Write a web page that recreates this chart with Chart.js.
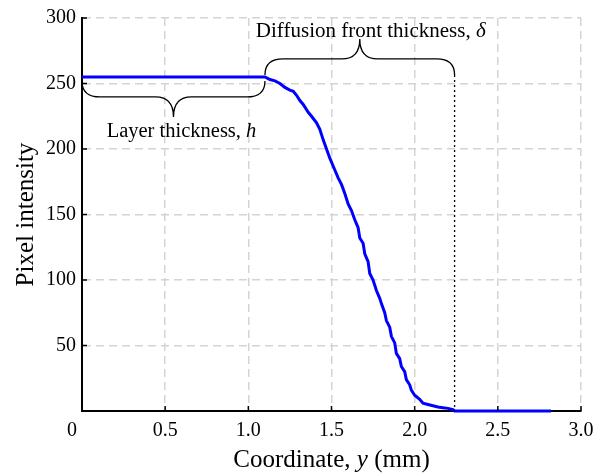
<!DOCTYPE html>
<html>
<head>
<meta charset="utf-8">
<script src="https://cdn.jsdelivr.net/npm/chart.js@4.4.1/dist/chart.umd.min.js"></script>
<style>
  body { margin: 0; background: #fff; }
</style>
</head>
<body>
<canvas id="myChart" width="594" height="474"></canvas>
<script>
// intensity profile
const coordY = [
  0, 1.10, 1.13, 1.16, 1.19, 1.22, 1.25, 1.27, 1.29, 1.31,
  1.33, 1.36, 1.38, 1.41, 1.43, 1.45, 1.47, 1.49, 1.52, 1.54,
  1.56, 1.58, 1.60, 1.62, 1.64, 1.66, 1.67, 1.69, 1.70, 1.72,
  1.73, 1.75, 1.77, 1.79, 1.80, 1.82, 1.83, 1.85, 1.86, 1.88,
  1.89, 1.91, 1.92, 1.94, 1.95, 1.97, 1.98, 2.00, 2.03, 2.05,
  2.08, 2.11, 2.14, 2.17, 2.20, 2.23, 2.24, 2.82,
];
const intensity = [
  255, 255, 253, 252, 250, 247, 245, 244, 241, 237,
  234, 228, 225, 220, 215, 207, 200, 193, 184, 178,
  173, 166, 158, 153, 146, 140, 132, 128, 120, 114,
  105, 100, 92, 86, 82, 75, 69, 64, 57, 52,
  44, 40, 34, 30, 24, 20, 16, 12, 9, 6,
  5, 4, 3, 2.5, 2, 1, 0, 0,
];
const xTicks = [0, 0.5, 1.0, 1.5, 2.0, 2.5, 3.0];
const yTicks = [50, 100, 150, 200, 250, 300];
const layerEnd = 1.10; // h
const frontEnd = 2.24; // h + delta
const plateau = 255;

const serif = "'Liberation Serif', 'DejaVu Serif', serif";
const gridColor = (c) => (c.tick && c.tick.value === 0 ? "rgba(0,0,0,0)" : "#d4d4d4");

// mixed normal / italic text, centred on cx
function richText(ctx, parts, cx, y, size) {
  let w = 0;
  parts.forEach((p) => {
    ctx.font = (p.it ? "italic " : "") + size + "px " + serif;
    w += ctx.measureText(p.t).width;
  });
  let px = cx - w / 2;
  ctx.textAlign = "left";
  parts.forEach((p) => {
    ctx.font = (p.it ? "italic " : "") + size + "px " + serif;
    ctx.fillText(p.t, px, y);
    px += ctx.measureText(p.t).width;
  });
}

// curly brace between x1 and x2, dir = 1 points down, -1 points up
function brace(ctx, x1, x2, y, dir) {
  const yh = y + dir * 16;
  const tip = y + dir * 36;
  const xm = (x1 + x2) / 2;
  const r = 18;
  ctx.beginPath();
  ctx.moveTo(x1, y);
  ctx.quadraticCurveTo(x1, yh, x1 + r, yh);
  ctx.lineTo(xm - r, yh);
  ctx.quadraticCurveTo(xm, yh, xm, tip);
  ctx.quadraticCurveTo(xm, yh, xm + r, yh);
  ctx.lineTo(x2 - r, yh);
  ctx.quadraticCurveTo(x2, yh, x2, y);
  ctx.stroke();
}

const annotations = {
  id: "annotations",
  afterDraw: (chart) => {
    const { ctx, chartArea } = chart;
    const x = chart.scales.x;
    const y = chart.scales.y;
    ctx.save();
    ctx.strokeStyle = "#000";
    ctx.fillStyle = "#000";

    // inward tick marks
    ctx.lineWidth = 1.5;
    ctx.beginPath();
    xTicks.forEach((v) => {
      const px = x.getPixelForValue(v);
      ctx.moveTo(px, chartArea.bottom);
      ctx.lineTo(px, chartArea.bottom - 5);
    });
    yTicks.forEach((v) => {
      const py = y.getPixelForValue(v);
      ctx.moveTo(chartArea.left, py);
      ctx.lineTo(chartArea.left + 5, py);
    });
    ctx.stroke();

    // the "0" on x sits left of the axis
    ctx.font = "20px " + serif;
    ctx.textAlign = "center";
    ctx.textBaseline = "middle";
    ctx.fillText("0", x.getPixelForValue(0) - 10, chartArea.bottom + 20);

    // braces
    const xa = x.getPixelForValue(0);
    const xb = x.getPixelForValue(layerEnd);
    const xc = x.getPixelForValue(frontEnd);
    const yp = y.getPixelForValue(plateau);
    ctx.lineWidth = 1.3;
    brace(ctx, xa, xb, yp + 4, 1);
    brace(ctx, xb, xc, yp - 2, -1);

    // dotted line at end of the front
    ctx.setLineDash([2, 3]);
    ctx.beginPath();
    ctx.moveTo(xc, yp - 2);
    ctx.lineTo(xc, chartArea.bottom);
    ctx.stroke();
    ctx.setLineDash([]);

    ctx.textBaseline = "alphabetic";
    richText(ctx, [{ t: "Layer thickness, " }, { t: "h", it: true }], (xa + xb) / 2 + 8, yp + 60, 20.5);
    richText(ctx, [{ t: "Diffusion front thickness, " }, { t: "δ", it: true }], (xb + xc) / 2 + 11, yp - 40, 21);

    // axis titles
    richText(ctx, [{ t: "Coordinate, " }, { t: "y", it: true }, { t: " (mm)" }], (chartArea.left + chartArea.right) / 2, 467, 25);
    ctx.translate(33, (chartArea.top + chartArea.bottom) / 2);
    ctx.rotate(-Math.PI / 2);
    ctx.font = "25px " + serif;
    ctx.textAlign = "center";
    ctx.fillText("Pixel intensity", 0, 0);
    ctx.restore();
  },
};

const points = coordY.map((v, i) => ({ x: v, y: intensity[i] }));

new Chart(document.getElementById("myChart"), {
  type: "line",
  data: {
    datasets: [
      {
        data: points,
        borderColor: "#0000ff",
        borderWidth: 3,
        pointRadius: 0,
        tension: 0,
        clip: false,
      },
    ],
  },
  options: {
    responsive: false,
    animation: false,
    layout: { padding: { top: 18, right: 13, left: 0, bottom: 0 } },
    plugins: {
      legend: { display: false },
      tooltip: { enabled: false },
    },
    scales: {
      x: {
        type: "linear",
        min: 0,
        max: 3,
        ticks: {
          stepSize: 0.5,
          color: "#000",
          font: { family: serif, size: 20 },
          padding: 8,
          maxRotation: 0,
          callback: (v) => (v === 0 ? "" : v.toFixed(1)),
        },
        grid: { color: gridColor, lineWidth: 1.5, drawTicks: false },
        border: { display: true, color: "#000", width: 2, dash: [8, 5] },
        afterFit: (s) => {
          s.height = 63;
          s.paddingLeft = 0;
          s.paddingRight = 0;
        },
      },
      y: {
        min: 0,
        max: 300,
        ticks: {
          stepSize: 50,
          color: "#000",
          font: { family: serif, size: 20 },
          padding: 6,
          callback: (v) => (v === 0 ? "" : v),
        },
        grid: { color: gridColor, lineWidth: 1.5, drawTicks: false },
        border: { display: true, color: "#000", width: 2, dash: [8, 5] },
        afterFit: (s) => {
          s.width = 82;
          s.paddingTop = 0;
          s.paddingBottom = 0;
        },
      },
    },
  },
  plugins: [annotations],
});
</script>
</body>
</html>
